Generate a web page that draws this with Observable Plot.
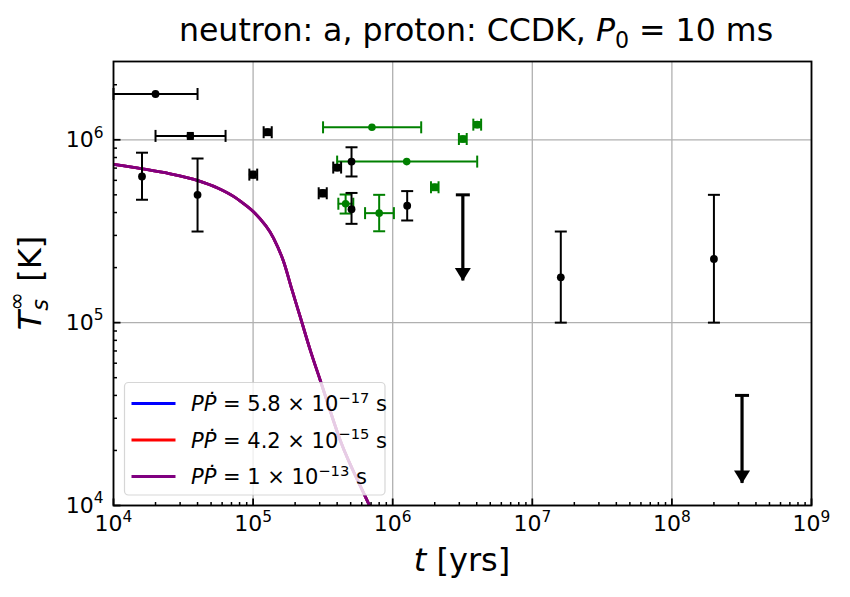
<!DOCTYPE html>
<html>
<head>
<meta charset="utf-8">
<script src="https://cdn.jsdelivr.net/npm/d3@7"></script>
<script src="https://cdn.jsdelivr.net/npm/@observablehq/plot@0.6"></script>
<style>
  body { margin: 0; background: #fff; }
  #chart { width: 850px; height: 597px; }
  svg text { font-family: "DejaVu Sans", sans-serif; }
</style>
</head>
<body>
<div id="chart"></div>
<script>
// Thermal evolution: surface temperature vs. age, with observed sources.

// Observed sources, black group (age in yr, temperature in K)
const blackAge    = [2.0e4, 3.55e4, 1.27e5, 1.6e4, 4.0e4, 1.0e5, 3.15e5, 4.0e5, 5.07e5, 5.07e5, 1.27e6, 1.6e7, 2.0e8];
const blackAgeLo  = [1.0e4, 2.0e4, 1.19e5, null, null, 0.94e5, 2.95e5, 3.75e5, null, null, null, null, null];
const blackAgeHi  = [4.0e4, 6.35e4, 1.36e5, null, null, 1.07e5, 3.37e5, 4.27e5, null, null, null, null, null];
const blackTemp   = [1.78e6, 1.05e6, 1.10e6, 6.3e5, 5.0e5, 6.45e5, 5.1e5, 7.05e5, 7.6e5, 4.17e5, 4.36e5, 1.77e5, 2.23e5];
const blackTempLo = [null, 1.01e6, 1.06e6, 4.7e5, 3.15e5, 6.2e5, 4.9e5, 6.8e5, 6.3e5, 3.47e5, 3.62e5, 1.0e5, 1.0e5];
const blackTempHi = [null, 1.09e6, 1.14e6, 8.5e5, 7.9e5, 6.7e5, 5.3e5, 7.3e5, 9.1e5, 5.12e5, 5.24e5, 3.15e5, 5.0e5];

// Observed sources, green group
const greenAge    = [4.6e5, 7.1e5, 3.18e6, 4.03e6, 1.26e6, 8.0e5, 2.0e6];
const greenAgeLo  = [4.08e5, 3.17e5, 2.98e6, 3.78e6, 4.0e5, 6.34e5, 1.88e6];
const greenAgeHi  = [5.22e5, 1.6e6, 3.39e6, 4.3e6, 4.03e6, 1.02e6, 2.13e6];
const greenTemp   = [4.47e5, 1.17e6, 1.01e6, 1.21e6, 7.6e5, 3.97e5, 5.5e5];
const greenTempLo = [3.95e5, null, 0.975e6, 1.17e6, null, 3.16e5, 5.3e5];
const greenTempHi = [5.02e5, null, 1.045e6, 1.25e6, null, 5.0e5, 5.7e5];

// Upper limits: age, limit value, end of the downward arrow
const limitAge = [3.18e6, 3.18e8];
const limitTop = [5.0e5, 4.0e4];
const limitTip = [1.69e5, 1.32e4];

// Cooling curve (identical for the three spin-down rates)
const coolAge  = [1.0e4, 1.61e4, 2.51e4, 4.03e4, 5.62e4, 7.24e4, 8.09e4, 1.01e5, 1.40e5, 1.66e5, 1.90e5, 2.18e5, 2.57e5, 3.03e5, 4.22e5, 6.73e5, 8.9e5];
const coolTemp = [7.33e5, 6.93e5, 6.53e5, 5.98e5, 5.43e5, 4.90e5, 4.62e5, 4.03e5, 2.90e5, 2.14e5, 1.51e5, 1.07e5, 7.05e4, 4.83e4, 2.26e4, 1.02e4, 6.3e3];

// Series
const seriesMantissa = ["5.8", "4.2", "1"];
const seriesExponent = ["−17", "−15", "−13"];
const seriesColor    = ["#0000ff", "#ff0000", "#800080"];

// Axis ticks
const xTicks = [1e4, 1e5, 1e6, 1e7, 1e8, 1e9];
const yTicks = [1e4, 1e5, 1e6];
const xDomain = [1e4, 1e9];
const yDomain = [1e4, 2.68e6];

// "10^n" is split into base and raised exponent after rendering
const powLabel = v => "10^" + Math.round(Math.log10(v));

const minorTicks = (lo, hi) => {
  const out = [];
  for (let e = Math.floor(Math.log10(lo)); e < Math.ceil(Math.log10(hi)); e++)
    for (let k = 2; k <= 9; k++) { const v = k * 10 ** e; if (v > lo && v < hi) out.push(v); }
  return out;
};
const xMinor = minorTicks(...xDomain);
const yMinor = minorTicks(...yDomain);

const rows = (age, ageLo, ageHi, temp, tempLo, tempHi) =>
  age.map((a, i) => ({age: a, ageLo: ageLo[i], ageHi: ageHi[i], temp: temp[i], tempLo: tempLo[i], tempHi: tempHi[i]}));
const black = rows(blackAge, blackAgeLo, blackAgeHi, blackTemp, blackTempLo, blackTempHi);
const green = rows(greenAge, greenAgeLo, greenAgeHi, greenTemp, greenTempLo, greenTempHi);
const limits = limitAge.map((a, i) => ({age: a, top: limitTop[i], tip: limitTip[i]}));
const curve = coolAge.map((a, i) => ({age: a, temp: coolTemp[i]}));

// Small path symbols for ticks, caps and arrow heads
const tickUp = len => ({draw(c) { c.moveTo(0, 0); c.lineTo(0, -len); }});
const tickRight = len => ({draw(c) { c.moveTo(0, 0); c.lineTo(len, 0); }});
const capH = half => ({draw(c) { c.moveTo(-half, 0); c.lineTo(half, 0); }});
const capV = half => ({draw(c) { c.moveTo(0, -half); c.lineTo(0, half); }});
const arrowHead = {draw(c) { c.moveTo(-8, -13); c.lineTo(8, -13); c.lineTo(0, 0); c.closePath(); }};

// Tight measurements get compact caps
const tight = (lo, hi, v) => (hi - lo) / v < 0.12;

function errorMarks(data, color, r) {
  const vy = data.filter(d => d.tempLo != null);
  const vx = data.filter(d => d.ageLo != null);
  const vyWide = vy.filter(d => !tight(d.tempLo, d.tempHi, d.temp));
  const vyTight = vy.filter(d => tight(d.tempLo, d.tempHi, d.temp));
  const vxWide = vx.filter(d => !tight(d.ageLo, d.ageHi, d.age));
  const vxTight = vx.filter(d => tight(d.ageLo, d.ageHi, d.age));
  const line = {stroke: color, strokeWidth: 2, fill: "none"};
  return [
    Plot.ruleX(vy, {x: "age", y1: "tempLo", y2: "tempHi", ...line}),
    Plot.ruleY(vx, {y: "temp", x1: "ageLo", x2: "ageHi", ...line}),
    Plot.dot(vyWide, {x: "age", y: "tempLo", symbol: capH(6), ...line}),
    Plot.dot(vyWide, {x: "age", y: "tempHi", symbol: capH(6), ...line}),
    Plot.dot(vyTight, {x: "age", y: "tempLo", symbol: capH(3.5), ...line}),
    Plot.dot(vyTight, {x: "age", y: "tempHi", symbol: capH(3.5), ...line}),
    Plot.dot(vxWide, {x: "ageLo", y: "temp", symbol: capV(6), ...line}),
    Plot.dot(vxWide, {x: "ageHi", y: "temp", symbol: capV(6), ...line}),
    Plot.dot(vxTight, {x: "ageLo", y: "temp", symbol: capV(3.5), ...line}),
    Plot.dot(vxTight, {x: "ageHi", y: "temp", symbol: capV(3.5), ...line}),
    Plot.dot(data, {x: "age", y: "temp", r, fill: color, stroke: "none"})
  ];
}

const chart = Plot.plot({
  width: 850,
  height: 597,
  marginTop: 61,
  marginRight: 39,
  marginBottom: 92,
  marginLeft: 113,
  style: {fontFamily: "DejaVu Sans", fontSize: "22px", color: "black", background: "white", overflow: "visible"},
  x: {type: "log", domain: xDomain},
  y: {type: "log", domain: yDomain},
  marks: [
    Plot.gridX({ticks: xTicks, stroke: "#b0b0b0", strokeOpacity: 1, strokeWidth: 1.3}),
    Plot.gridY({ticks: yTicks, stroke: "#b0b0b0", strokeOpacity: 1, strokeWidth: 1.3}),
    ...seriesColor.map(color =>
      Plot.line(curve, {x: "age", y: "temp", stroke: color, strokeWidth: 2.8, curve: "monotone-x", clip: true})),
    ...errorMarks(green, "#008000", 3.8),
    ...errorMarks(black, "black", 3.9),
    // upper limits with downward arrows
    Plot.ruleX(limits, {x: "age", y1: "top", y2: "tip", stroke: "black", strokeWidth: 3.2}),
    Plot.dot(limits, {x: "age", y: "top", symbol: capH(7), fill: "none", stroke: "black", strokeWidth: 3}),
    Plot.dot(limits, {x: "age", y: "tip", symbol: arrowHead, fill: "black", stroke: "none"}),
    // inward ticks
    Plot.dot(xTicks, {x: d => d, frameAnchor: "bottom", symbol: tickUp(7), fill: "none", stroke: "black", strokeWidth: 1.8}),
    Plot.dot(xMinor, {x: d => d, frameAnchor: "bottom", symbol: tickUp(3.5), fill: "none", stroke: "black", strokeWidth: 1.5}),
    Plot.dot(yTicks, {y: d => d, frameAnchor: "left", symbol: tickRight(7), fill: "none", stroke: "black", strokeWidth: 1.8}),
    Plot.dot(yMinor, {y: d => d, frameAnchor: "left", symbol: tickRight(3.5), fill: "none", stroke: "black", strokeWidth: 1.5}),
    Plot.axisX({ticks: xTicks, tickFormat: powLabel, tickSize: 0, tickPadding: 10, label: null, fontSize: 22}),
    Plot.axisY({ticks: yTicks, tickFormat: powLabel, tickSize: 0, tickPadding: 10, label: null, fontSize: 22}),
    Plot.frame({stroke: "black", strokeWidth: 1.8})
  ]
});

document.getElementById("chart").appendChild(chart);
const svg = d3.select(chart);

// Raise tick-label exponents
svg.selectAll("g[aria-label$='tick label'] text").each(function() {
  const s = this.textContent;
  if (!s.includes("^")) return;
  const [base, exp] = s.split("^");
  const t = d3.select(this).text(null);
  t.append("tspan").text(base);
  t.append("tspan").attr("font-size", "0.7em").attr("dy", "-0.6em").text(exp);
});

// Title
const title = svg.append("text")
  .attr("x", 476).attr("y", 41).attr("text-anchor", "middle")
  .attr("font-size", 31.6).attr("fill", "black");
title.append("tspan").text("neutron: a, proton: CCDK, ");
title.append("tspan").attr("font-style", "italic").text("P");
title.append("tspan").attr("font-size", "0.7em").attr("dy", "0.3em").text("0");
title.append("tspan").attr("dy", "-0.21em").text(" = 10 ms");

// x label
const xl = svg.append("text")
  .attr("x", 462).attr("y", 571).attr("text-anchor", "middle")
  .attr("font-size", 32).attr("fill", "black");
xl.append("tspan").attr("font-style", "italic").text("t");
xl.append("tspan").text(" [yrs]");

// y label
const yl = svg.append("text")
  .attr("transform", "translate(41,283) rotate(-90)")
  .attr("text-anchor", "middle")
  .attr("font-size", 32).attr("fill", "black");
yl.append("tspan").attr("font-style", "italic").text("T");
yl.append("tspan").attr("font-size", "0.7em").attr("dy", "0.3em").attr("font-style", "italic").text("s");
yl.append("tspan").attr("font-size", "0.7em").attr("dx", "-0.52em").attr("dy", "-1.05em").text("∞");
yl.append("tspan").attr("dy", "0.52em").text(" [K]");

// Legend
const lg = svg.append("g");
lg.append("rect")
  .attr("x", 124.5).attr("y", 382.5).attr("width", 260.5).attr("height", 112.5).attr("rx", 4)
  .attr("fill", "white").attr("fill-opacity", 0.8)
  .attr("stroke", "#cccccc").attr("stroke-opacity", 0.8).attr("stroke-width", 1.2);
seriesColor.forEach((color, i) => {
  const yRow = 403.5 + i * 36.5;
  lg.append("line").attr("x1", 131.5).attr("x2", 175.5).attr("y1", yRow).attr("y2", yRow)
    .attr("stroke", color).attr("stroke-width", 2.8);
  const t = lg.append("text").attr("x", 191).attr("y", yRow + 7.5)
    .attr("text-anchor", "start").attr("font-size", 21).attr("fill", "black");
  t.append("tspan").attr("font-style", "italic").text("PṖ");
  t.append("tspan").text(` = ${seriesMantissa[i]} × 10`);
  t.append("tspan").attr("font-size", "0.7em").attr("dy", "-0.55em").text(seriesExponent[i]);
  t.append("tspan").attr("dy", "0.385em").text(" s");
});
</script>
</body>
</html>
